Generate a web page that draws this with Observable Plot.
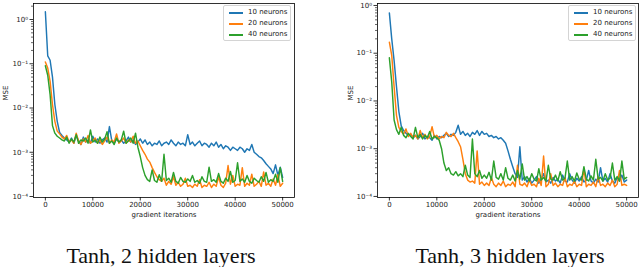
<!DOCTYPE html>
<html>
<head>
<meta charset="utf-8">
<script src="https://cdn.jsdelivr.net/npm/d3@7"></script>
<script src="https://cdn.jsdelivr.net/npm/@observablehq/plot@0.6"></script>
<style>
  html, body { margin: 0; padding: 0; background: white; overflow: hidden; }
  #wrap { position: relative; width: 640px; height: 267px; background: white; }
  .caption { position: absolute; width: 320px; text-align: center; font-family: "Liberation Serif", serif; font-size: 22px; line-height: 22px; color: #111; white-space: nowrap; }
</style>
</head>
<body>
<div id="wrap"></div>
<script>
// ---- data ----
const seriesNames = ["10 neurons", "20 neurons", "40 neurons"];
const seriesColors = ["#1f77b4", "#ff7f0e", "#2ca02c"];
const captions = ["Tanh, 2 hidden layers", "Tanh, 3 hidden layers"];
const xTicks = [0, 10000, 20000, 30000, 40000, 50000];
const yTicks = [1e-4, 1e-3, 1e-2, 1e-1, 1];
const axisTitleX = "gradient iterations";
const axisTitleY = "MSE";

const iterations = [0,500,1000,1500,2000,2500,3000,3500,4000,4500,5000,5500,6000,6500,7000,7500,8000,8500,9000,9500,10000,10500,11000,11500,12000,12500,13000,13500,14000,14500,15000,15500,16000,16500,17000,17500,18000,18500,19000,19500,20000,20500,21000,21500,22000,22500,23000,23500,24000,24500,25000,25500,26000,26500,27000,27500,28000,28500,29000,29500,30000,30500,31000,31500,32000,32500,33000,33500,34000,34500,35000,35500,36000,36500,37000,37500,38000,38500,39000,39500,40000,40500,41000,41500,42000,42500,43000,43500,44000,44500,45000,45500,46000,46500,47000,47500,48000,48500,49000,49500,50000];

// Tanh, 2 hidden layers
const left10 = [1.5,0.15,0.12,0.05,0.012,0.005,0.0028,0.0024,0.0021,0.0019,0.0017,
  0.0021,0.0016,0.0024,0.0018,0.0015,0.0022,0.0017,0.0019,0.0016,0.0023,
  0.0017,0.0020,0.0016,0.0019,0.0021,0.0017,0.0038,0.0018,0.0016,0.0020,
  0.0017,0.0019,0.0016,0.0018,0.0022,0.0017,0.0019,0.0015,0.0017,0.0020,
  0.0016,0.0019,0.0015,0.0017,0.0014,0.0016,0.0015,0.0018,0.0014,0.0016,
  0.0017,0.0015,0.0019,0.0016,0.0014,0.0017,0.0015,0.0016,0.0014,0.0025,
  0.0015,0.0017,0.0014,0.0016,0.0018,0.0014,0.0016,0.0015,0.0013,0.0016,
  0.0014,0.0017,0.0013,0.0015,0.0012,0.0014,0.0013,0.0011,0.0013,0.0012,
  0.0011,0.0013,0.0012,0.0010,0.0012,0.0011,0.0015,0.0010,0.0009,0.0008,
  0.00075,0.00065,0.00055,0.00048,0.00042,0.00033,0.00052,0.00030,0.00046,0.00027];
const left20 = [0.11,0.08,0.04,0.012,0.005,0.0030,0.0026,0.0022,0.0020,0.0024,0.0017,
  0.0019,0.0016,0.0027,0.0018,0.0015,0.0020,0.0017,0.0024,0.0016,0.0018,
  0.0021,0.0016,0.0019,0.0015,0.0018,0.0022,0.0016,0.0019,0.0017,0.0026,
  0.0016,0.0018,0.0021,0.0016,0.0019,0.0017,0.0023,0.0016,0.0018,0.0014,
  0.0011,0.0009,0.0007,0.0006,0.00045,0.00035,0.00028,0.00024,0.00022,0.00026,
  0.00018,0.00022,0.00019,0.00028,0.00018,0.00021,0.00017,0.00019,0.00026,0.00017,
  0.00018,0.00016,0.00019,0.00017,0.00024,0.00016,0.00018,0.00017,0.00021,0.00016,
  0.00019,0.00017,0.00028,0.00018,0.00016,0.00020,0.00050,0.00019,0.00030,0.00017,
  0.00019,0.00018,0.00045,0.00017,0.00020,0.00018,0.00032,0.00017,0.00019,0.00022,
  0.00017,0.00036,0.00018,0.00020,0.00017,0.00025,0.00018,0.00031,0.00017,0.00020];
const left40 = [0.09,0.055,0.02,0.004,0.0027,0.0023,0.0021,0.0019,0.0018,0.0022,0.0016,
  0.0020,0.0017,0.0025,0.0016,0.0019,0.0018,0.0021,0.0016,0.0032,0.0017,
  0.0019,0.0016,0.0022,0.0017,0.0020,0.0029,0.0016,0.0018,0.0015,0.0021,
  0.0017,0.0019,0.0030,0.0016,0.0018,0.0021,0.0016,0.0027,0.0013,0.0008,
  0.00045,0.00030,0.00024,0.00022,0.00040,0.00023,0.00021,0.00031,0.00022,0.0009,
  0.00023,0.00026,0.00021,0.00035,0.00022,0.00020,0.00027,0.00022,0.00021,0.00025,
  0.00022,0.00030,0.00021,0.00023,0.00020,0.00028,0.00022,0.00021,0.00046,0.00022,
  0.00024,0.00021,0.00033,0.00022,0.00020,0.00026,0.00022,0.00037,0.00021,0.00023,
  0.00058,0.00022,0.00025,0.00021,0.00030,0.00022,0.00020,0.00026,0.00023,0.00021,
  0.00028,0.00022,0.00035,0.00021,0.00024,0.00022,0.00032,0.00021,0.00045,0.00022];

// Tanh, 3 hidden layers
const right10 = [0.7,0.2,0.07,0.02,0.006,0.003,0.0024,0.0021,0.0019,0.0020,0.0017,
  0.0019,0.0016,0.0018,0.0021,0.0016,0.0018,0.0017,0.0015,0.0019,0.0016,
  0.0018,0.0017,0.0019,0.0021,0.0018,0.0020,0.0019,0.0022,0.0031,0.0020,
  0.0023,0.0019,0.0021,0.0018,0.0022,0.0020,0.0024,0.0019,0.0023,0.0020,
  0.0021,0.0018,0.0019,0.0017,0.0018,0.0016,0.0017,0.0015,0.0013,0.0009,
  0.0006,0.00042,0.0003,0.00025,0.0011,0.00022,0.00026,0.00020,0.00024,0.00019,
  0.00022,0.00026,0.00019,0.00023,0.00030,0.00020,0.00022,0.00019,0.00025,0.00021,
  0.00023,0.00019,0.00028,0.00021,0.00020,0.00030,0.00022,0.00019,0.00024,0.00021,
  0.00026,0.00020,0.00022,0.00035,0.00021,0.00019,0.00023,0.00020,0.00040,0.00021,
  0.00024,0.00020,0.00030,0.00021,0.00019,0.00025,0.00021,0.00028,0.00020,0.00022];
const right20 = [0.17,0.09,0.02,0.005,0.0028,0.0023,0.0020,0.0026,0.0018,0.0021,0.0017,
  0.0019,0.0016,0.0024,0.0017,0.0020,0.0016,0.0018,0.0029,0.0017,0.0019,
  0.0016,0.0018,0.0017,0.0022,0.0019,0.0018,0.0021,0.0017,0.0014,0.0011,
  0.0006,0.0003,0.00022,0.00020,0.00021,0.00019,0.0009,0.00018,0.00020,0.00017,
  0.00019,0.00017,0.00025,0.00018,0.00016,0.00019,0.00017,0.00021,0.00016,0.00018,
  0.00017,0.00020,0.00016,0.00045,0.00018,0.00017,0.00019,0.00016,0.00022,0.00017,
  0.00018,0.00016,0.00024,0.00017,0.0007,0.00016,0.00018,0.00030,0.00017,0.00019,
  0.00016,0.00018,0.00017,0.00025,0.00016,0.00018,0.00017,0.00021,0.00016,0.00018,
  0.00017,0.00038,0.00016,0.00018,0.00017,0.00020,0.00016,0.00026,0.00017,0.00018,
  0.00016,0.00019,0.00017,0.00022,0.00016,0.00018,0.00035,0.00017,0.00018,0.00017];
const right40 = [0.08,0.025,0.004,0.0025,0.0020,0.0028,0.0019,0.0017,0.0021,0.0018,0.0016,
  0.0028,0.0017,0.0020,0.0016,0.0019,0.0017,0.0023,0.0016,0.0018,0.0017,
  0.0015,0.0010,0.0005,0.00035,0.00040,0.00030,0.00028,0.00033,0.00027,0.00030,
  0.00026,0.00045,0.00028,0.00025,0.0016,0.00030,0.00026,0.00035,0.00024,0.00028,
  0.00024,0.00032,0.00022,0.00055,0.00025,0.00023,0.00030,0.00022,0.00040,0.00024,
  0.00022,0.00028,0.00021,0.00035,0.00023,0.00048,0.00022,0.00026,0.00021,0.00030,
  0.00023,0.00021,0.00038,0.00022,0.00025,0.00021,0.00045,0.00023,0.00022,0.00028,
  0.00021,0.00033,0.00022,0.00024,0.00055,0.00022,0.00026,0.00021,0.00031,0.00023,
  0.00022,0.00042,0.00023,0.00021,0.00027,0.00022,0.00060,0.00023,0.00025,0.00021,
  0.00030,0.00022,0.00024,0.00050,0.00022,0.00026,0.00021,0.00055,0.00023,0.00025];

// ---- drawing ----
const supMap = {"-": "\u207B", "0": "\u2070", "1": "\u00B9", "2": "\u00B2", "3": "\u00B3", "4": "\u2074"};
const fmtPow = d => "10" + String(Math.round(Math.log10(d))).replace(/./g, c => supMap[c]);
const minorTicks = [];
for (let k = -4; k <= 0; k++) for (let m = 2; m <= 9; m++) minorTicks.push(m * Math.pow(10, k));

function toRows(arrays) {
  const rows = [];
  arrays.forEach((arr, s) => arr.forEach((v, i) => rows.push({iter: iterations[i], mse: v, series: seriesNames[s]})));
  return rows;
}

function panel(arrays, yTop, mLeft, mRight, labelDx) {
  const minor = minorTicks.filter(t => t <= yTop);
  return Plot.plot({
    width: 320, height: 222,
    marginLeft: mLeft, marginRight: mRight, marginTop: 3, marginBottom: 25,
    style: {fontFamily: "DejaVu Sans", fontSize: "7px", color: "#222", background: "white"},
    x: {type: "linear", domain: [-2500, 52500]},
    y: {type: "log", domain: [0.95e-4, yTop]},
    color: {domain: seriesNames, range: seriesColors},
    marks: [
      Plot.line(toRows(arrays), {x: "iter", y: "mse", stroke: "series", z: "series", strokeWidth: 1.45}),
      Plot.frame({stroke: "#000", strokeWidth: 0.8}),
      Plot.axisX(xTicks, {tickFormat: d3.format("d"), tickSize: 3.5, tickPadding: 1.5, label: null, stroke: "#000", strokeWidth: 0.8}),
      Plot.axisY(yTicks, {tickFormat: fmtPow, tickSize: 3.5, tickPadding: 2, label: null, stroke: "#000", strokeWidth: 0.8}),
      Plot.axisY(minor, {tickFormat: () => "", tickSize: 2, label: null, stroke: "#000", strokeWidth: 0.6}),
      Plot.text([axisTitleX], {frameAnchor: "bottom", dy: 19, fill: "#222"}),
      Plot.text([axisTitleY], {frameAnchor: "left", rotate: -90, dx: labelDx, fill: "#222"})
    ]
  });
}

function legend(left, top) {
  const box = document.createElement("div");
  box.style.cssText = `position:absolute;left:${left}px;top:${top}px;width:66px;height:34px;border:1px solid #d4d4d4;border-radius:2px;background:rgba(255,255,255,0.85);`;
  seriesNames.forEach((name, i) => {
    const ln = document.createElement("div");
    ln.style.cssText = `position:absolute;left:5px;top:${6 + i * 11}px;width:14px;height:1.6px;background:${seriesColors[i]};`;
    const tx = document.createElement("div");
    tx.textContent = name;
    tx.style.cssText = `position:absolute;left:24px;top:${2 + i * 11}px;font-family:'DejaVu Sans';font-size:7px;line-height:9px;color:#222;white-space:nowrap;`;
    box.appendChild(ln);
    box.appendChild(tx);
  });
  return box;
}

const wrap = document.getElementById("wrap");
const p1 = panel([left10, left20, left40], 2.3, 33, 26, -28);
p1.style.position = "absolute"; p1.style.left = "0px"; p1.style.top = "0px";
wrap.appendChild(p1);
const p2 = panel([right10, right20, right40], 1.1, 57, 2, -27);
p2.style.position = "absolute"; p2.style.left = "320px"; p2.style.top = "0px";
wrap.appendChild(p2);
wrap.appendChild(legend(223, 5));
wrap.appendChild(legend(568, 5));

[[1, captions[0]], [350, captions[1]]].forEach(([x, t]) => {
  const c = document.createElement("div");
  c.className = "caption";
  c.style.left = x + "px";
  c.style.top = "245px";
  c.textContent = t;
  wrap.appendChild(c);
});
</script>
</body>
</html>
